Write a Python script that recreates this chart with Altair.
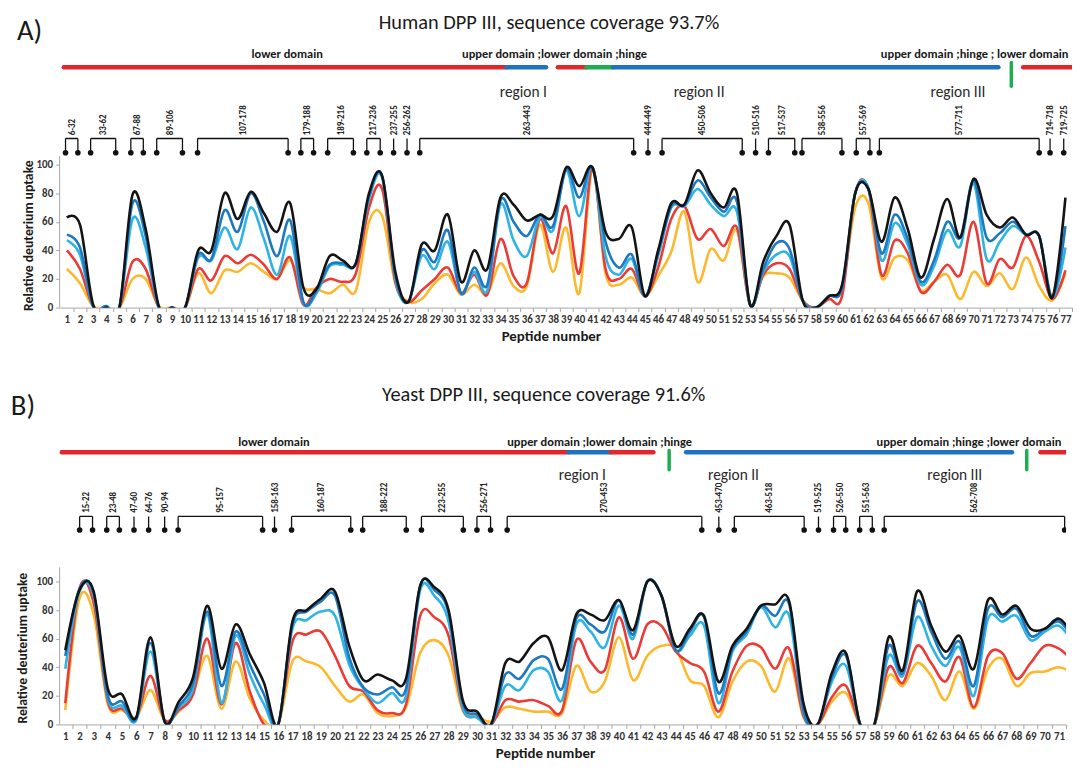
import altair as alt
import pandas as pd

FONT = "Carlito, Lato, sans-serif"
GRAY = "#a6a6a6"
INK = "#1a1a1a"
SERIES = ["yellow", "red", "lightblue", "darkblue", "black"]          # draw order
SERIES_COLORS = {"yellow": "#fdb92e", "red": "#ec3a35", "lightblue": "#2fb2e6",
                 "darkblue": "#1d78c2", "black": "#141414"}
DOMAIN_COLORS = {"lower": "#e2262b", "upper": "#1f72c2", "hinge": "#1cae4f"}

# ---------------- Panel A: human DPP III ----------------
A_peptide = list(range(1, 78))
A_black = [63, 58, 2, 0, 0, 79, 55, 1, 0, 0, 40, 40, 80, 62, 81, 66, 53, 73, 14, 13,
           36, 33, 31, 80, 92, 25, 4, 44, 40, 65, 18, 40, 27, 77, 72, 61, 65, 64, 98, 85,
           98, 53, 48, 56, 8, 40, 73, 72, 96, 80, 70, 80, 2, 32, 50, 58, 5, 0, 8, 16,
           80, 83, 46, 77, 55, 21, 48, 76, 49, 90, 65, 56, 63, 51, 50, 7, 77]
A_darkblue = [51, 42, 1, 1, 0, 73, 50, 0, 0, 0, 37, 34, 68, 53, 80, 60, 36, 61, 4, 12,
              30, 31, 31, 78, 92, 22, 4, 40, 32, 54, 10, 28, 16, 75, 60, 50, 65, 57, 97, 77,
              98, 46, 28, 37, 8, 38, 71, 72, 89, 77, 67, 74, 2, 27, 45, 41, 5, 0, 8, 14,
              80, 83, 38, 65, 48, 18, 33, 60, 49, 89, 49, 52, 60, 51, 50, 7, 57]
A_lightblue = [47, 37, 1, 1, 0, 62, 42, 0, 0, 0, 35, 33, 56, 41, 70, 48, 23, 50, 3, 10,
               29, 30, 31, 76, 91, 20, 4, 36, 27, 46, 10, 25, 12, 72, 47, 36, 63, 54, 96, 64,
               98, 36, 23, 34, 8, 36, 70, 71, 83, 72, 64, 67, 2, 25, 37, 36, 5, 0, 8, 14,
               80, 84, 33, 59, 44, 16, 29, 54, 43, 87, 34, 46, 57, 51, 50, 7, 42]
A_red = [40, 27, 1, 0, 0, 32, 27, 0, 0, 0, 27, 19, 36, 31, 37, 30, 20, 35, 2, 14,
         20, 18, 24, 70, 83, 18, 4, 12, 20, 28, 10, 23, 9, 48, 22, 17, 62, 38, 71, 24,
         98, 27, 20, 27, 8, 28, 62, 71, 48, 55, 43, 56, 2, 23, 31, 27, 5, 0, 6, 8,
         80, 83, 23, 47, 38, 11, 18, 30, 23, 60, 17, 34, 28, 50, 32, 6, 26]
A_yellow = [27, 17, 1, 0, 0, 20, 20, 1, 0, 0, 24, 10, 26, 25, 31, 25, 20, 33, 14, 13,
            10, 16, 12, 60, 64, 17, 4, 6, 17, 23, 9, 16, 10, 31, 15, 15, 58, 25, 56, 10,
            97, 24, 16, 21, 8, 22, 39, 67, 18, 41, 33, 54, 2, 22, 24, 21, 5, 0, 8, 14,
            70, 73, 21, 35, 33, 12, 18, 23, 6, 25, 15, 24, 13, 35, 15, 5, 24]

A_brk_label = ["6-32", "33-62", "67-88", "89-106", "107-178", "179-188", "189-216",
               "217-236", "237-255", "256-262", "263-443", "444-449", "450-506",
               "510-516", "517-537", "538-556", "557-569", "577-711", "714-718", "719-725"]
A_brk_start = [0.90, 2.81, 5.87, 7.84, 10.95, 18.81, 20.85, 23.83, 25.87, 26.89, 27.86,
               45.23, 46.30, 53.42, 54.40, 56.95, 61.08, 62.84, 75.83, 76.87]
A_brk_end = [1.84, 4.72, 6.82, 9.80, 17.84, 19.78, 22.81, 24.85, 25.87, 26.89, 44.14,
             45.23, 52.40, 53.42, 56.40, 59.99, 62.12, 75.00, 75.83, 76.87]

A_dom_start = [0.77, 34.46, 38.37, 40.55, 42.58, 73.78]
A_dom_end = [34.46, 37.47, 40.55, 42.58, 71.90, 80.0]
A_dom_kind = ["lower", "upper", "lower", "hinge", "upper", "lower"]
A_hinge_tick = [72.88]
A_domtext_center = ["lower domain"]
A_domtext_center_x = [17.77]
A_domtext_left = ["upper domain ;lower domain ;hinge", "upper domain ;hinge ; lower domain"]
A_domtext_left_x = [31.08, 62.95]
A_region = ["region I", "region II", "region III"]
A_region_x = [35.74, 49.12, 68.82]

# ---------------- Panel B: yeast DPP III ----------------
B_peptide = list(range(1, 73))
B_black = [52, 94, 93, 25, 21, 5, 61, 2, 16, 33, 83, 39, 70, 49, 29, 0, 72, 80, 88, 93,
           55, 31, 35, 31, 32, 97, 96, 80, 17, 9, 0, 43, 44, 57, 61, 38, 77, 77, 73, 87,
           66, 100, 90, 55, 67, 76, 30, 55, 67, 83, 84, 86, 15, 0, 36, 50, 0, 0, 61, 38,
           93, 69, 51, 62, 39, 87, 77, 83, 67, 67, 74, 62]
B_darkblue = [48, 95, 92, 20, 16, 4, 57, 2, 13, 29, 79, 27, 65, 42, 21, 0, 70, 79, 86, 90,
              47, 26, 21, 26, 25, 97, 94, 78, 15, 7, 0, 35, 32, 45, 46, 25, 74, 70, 65, 87,
              63, 100, 90, 52, 65, 75, 22, 53, 65, 83, 76, 84, 10, 0, 33, 48, 0, 0, 55, 36,
              86, 65, 46, 58, 27, 81, 75, 81, 62, 67, 72, 60]
B_lightblue = [39, 93, 90, 18, 13, 3, 51, 2, 12, 25, 77, 15, 62, 35, 14, 0, 67, 73, 79, 76,
               42, 25, 15, 22, 20, 94, 90, 72, 12, 5, 0, 27, 24, 38, 37, 17, 70, 65, 54, 83,
               60, 100, 90, 52, 62, 69, 15, 51, 63, 82, 68, 76, 8, 0, 30, 41, 0, 0, 48, 34,
               75, 55, 41, 54, 20, 74, 72, 76, 59, 65, 69, 57]
B_red = [15, 95, 85, 16, 11, 5, 34, 3, 10, 21, 60, 14, 57, 23, 0, 0, 58, 63, 65, 48,
         27, 23, 10, 8, 14, 76, 75, 62, 11, 5, 0, 17, 16, 17, 13, 10, 59, 44, 38, 75,
         46, 70, 69, 51, 43, 37, 9, 37, 55, 54, 39, 53, 6, 0, 19, 27, 0, 0, 40, 29,
         55, 43, 30, 47, 12, 48, 50, 32, 43, 55, 53, 44]
B_yellow = [10, 88, 77, 14, 10, 5, 24, 3, 9, 22, 48, 11, 44, 18, 3, 0, 44, 44, 40, 27,
            16, 21, 8, 6, 12, 50, 59, 48, 10, 6, 2, 12, 11, 9, 9, 8, 41, 23, 30, 61,
            31, 48, 55, 53, 31, 27, 5, 30, 44, 41, 23, 46, 5, 0, 16, 22, 0, 0, 34, 27,
            43, 34, 17, 37, 11, 39, 46, 27, 36, 37, 40, 36]

B_brk_label = ["15-22", "23-48", "47-60", "64-76", "90-94", "95-157", "158-163", "160-187",
               "188-222", "223-255", "256-271", "270-453", "453-470", "463-518", "519-525",
               "526-550", "551-563", "562-708"]
B_brk_start = [2.01, 3.92, 5.84, 6.87, 8.00, 8.95, 15.74, 16.94, 21.95, 26.09, 30.00,
               32.13, 47.04, 48.13, 54.06, 55.12, 56.96, 58.69]
B_brk_end = [2.92, 4.81, 5.84, 6.87, 8.00, 14.90, 15.74, 21.11, 25.02, 29.04, 30.96,
             45.84, 47.04, 53.05, 54.06, 55.98, 57.85, 71.40]

B_dom_start = [0.74, 36.44, 39.43, 44.73, 69.70]
B_dom_end = [36.44, 39.43, 42.43, 67.69, 80.0]
B_dom_kind = ["lower", "upper", "lower", "upper", "lower"]
B_hinge_tick = [43.54, 68.73]
B_domtext_center = ["lower domain"]
B_domtext_center_x = [15.7]
B_domtext_left = ["upper domain ;lower domain ;hinge", "upper domain ;hinge ;lower domain"]
B_domtext_left_x = [32.13, 58.15]
B_region = ["region I", "region II", "region III"]
B_region_x = [37.42, 48.07, 63.66]

XTITLE = "Peptide number"
YTITLE = "Relative deuterium uptake"


def make_panel(cfg):
    xs = alt.Scale(domain=cfg["xdom"], nice=False, zero=False)
    ys = alt.Scale(domain=[0, cfg["ytop"]], nice=False, zero=False)
    px_per = cfg["width"] / (cfg["xdom"][1] - cfg["xdom"][0])
    half = px_per / 2.0

    x_axis = alt.Axis(values=cfg["peptide"][:cfg["nlab"]], grid=False, domainColor=GRAY,
                      tickColor=GRAY, tickSize=4, tickOffset=half, labelOffset=-half,
                      labelFont=FONT, labelFontWeight="bold", labelFontSize=11,
                      labelColor="#333333", labelPadding=2, labelOverlap=False,
                      labelFlush=False, labelBound=False, titleFont=FONT,
                      titleFontSize=15, titleFontWeight="bold", titleColor=INK,
                      titlePadding=4, titleX=cfg["xtitle_x"])
    y_axis = alt.Axis(values=[0, 20, 40, 60, 80, 100], grid=False, domain=False,
                      tickColor=GRAY, tickSize=4, labelFont=FONT, labelFontWeight="bold",
                      labelFontSize=11, labelColor="#333333", labelPadding=3,
                      titleFont=FONT, titleFontSize=13.8, titleFontWeight="bold",
                      titleColor=INK, titlePadding=cfg["ytitle_pad"],
                      titleY=cfg["height"] * (1 - cfg["ytitle_unit"] / cfg["ytop"]))

    def XD(v):
        return alt.XDatum(v, scale=xs, axis=x_axis, title=XTITLE)

    def YD(v):
        return alt.YDatum(v, scale=ys, axis=y_axis, title=YTITLE)

    def Y2D(v):
        return alt.Y2Datum(v)

    def XF(f):
        return alt.X(f, type="quantitative", scale=xs, axis=x_axis, title=XTITLE)

    def YF(f):
        return alt.Y(f, type="quantitative", scale=ys, axis=y_axis, title=YTITLE)

    rows = []
    for name in SERIES:
        for p, v in zip(cfg["peptide"], cfg["series"][name]):
            rows.append({"peptide": p, "uptake": v, "series": name})
    df = pd.DataFrame(rows)

    layers = []
    # y axis line (only over the data range)
    one = pd.DataFrame({"k": [0]})
    layers.append(alt.Chart(one).mark_rule(color=GRAY, strokeWidth=1)
                  .encode(x=XD(cfg["xdom"][0]), y=YD(0), y2=Y2D(cfg["axis_top"])))

    for name in SERIES:
        layers.append(
            alt.Chart(df).transform_filter(alt.datum.series == name)
            .mark_line(interpolate="cardinal", tension=0, strokeWidth=2.6,
                       color=SERIES_COLORS[name], clip=True)
            .encode(x=XF("peptide"), y=YF("uptake"))
        )

    # peptide brackets
    brk = pd.DataFrame({"label": cfg["brk_label"], "start": cfg["brk_start"],
                        "end": cfg["brk_end"]})
    brk["mid"] = (brk["start"] + brk["end"]) / 2
    pairs = brk[brk["start"] != brk["end"]]
    dots = pd.DataFrame({"x": sorted(set(cfg["brk_start"]) | set(cfg["brk_end"]))})
    layers.append(alt.Chart(pairs).mark_rule(color="#111", strokeWidth=1.3, clip=True)
                  .encode(x=XF("start"), x2="end", y=YD(cfg["brk_y"])))
    layers.append(alt.Chart(dots).mark_rule(color="#111", strokeWidth=1.3, clip=True)
                  .encode(x=XF("x"), y=YD(cfg["dot_y"]), y2=Y2D(cfg["brk_y"])))
    layers.append(alt.Chart(dots).mark_circle(color="#111", size=32, opacity=1, clip=True)
                  .encode(x=XF("x"), y=YD(cfg["dot_y"])))
    layers.append(alt.Chart(brk).mark_text(angle=270, align="left", baseline="middle",
                                           font=FONT, fontSize=9, fontWeight="bold",
                                           color="#222", clip=True)
                  .encode(x=XF("mid"), y=YD(cfg["label_y"]), text="label:N"))

    # domain bars
    dom = pd.DataFrame({"start": cfg["dom_start"], "end": cfg["dom_end"],
                        "kind": cfg["dom_kind"]})
    layers.append(alt.Chart(dom).mark_rule(strokeWidth=4.5, strokeCap="round", clip=True)
                  .encode(x=XF("start"), x2="end", y=YD(cfg["bar_y"]),
                          color=alt.Color("kind:N", legend=None,
                                          scale=alt.Scale(domain=list(DOMAIN_COLORS),
                                                          range=list(DOMAIN_COLORS.values())))))
    hinge = pd.DataFrame({"x": cfg["hinge_tick"]})
    layers.append(alt.Chart(hinge).mark_rule(color=DOMAIN_COLORS["hinge"], strokeWidth=3.5,
                                             strokeCap="round")
                  .encode(x=XF("x"), y=YD(cfg["hinge_y"][0]), y2=Y2D(cfg["hinge_y"][1])))

    ct = pd.DataFrame({"t": cfg["domtext_center"], "x": cfg["domtext_center_x"]})
    layers.append(alt.Chart(ct).mark_text(align="center", baseline="middle", font=FONT,
                                          fontSize=12.5, fontWeight="bold", color=INK)
                  .encode(x=XF("x"), y=YD(cfg["domlabel_y"]), text="t:N"))
    lt = pd.DataFrame({"t": cfg["domtext_left"], "x": cfg["domtext_left_x"]})
    layers.append(alt.Chart(lt).mark_text(align="left", baseline="middle", font=FONT,
                                          fontSize=12.5, fontWeight="bold", color=INK)
                  .encode(x=XF("x"), y=YD(cfg["domlabel_y"]), text="t:N"))
    rg = pd.DataFrame({"t": cfg["region"], "x": cfg["region_x"]})
    layers.append(alt.Chart(rg).mark_text(align="center", baseline="middle", font=FONT,
                                          fontSize=15.5, color="#2a2a2a")
                  .encode(x=XF("x"), y=YD(cfg["region_y"]), text="t:N"))

    # panel tag and title
    tt = pd.DataFrame({"t": [cfg["title"]]})
    layers.append(alt.Chart(tt).mark_text(align="center", baseline="middle", font=FONT,
                                          fontSize=20.5, color=INK)
                  .encode(x=XD(cfg["title_x"]), y=YD(cfg["title_y"]), text="t:N"))
    tg = pd.DataFrame({"t": [cfg["tag"]]})
    layers.append(alt.Chart(tg).mark_text(align="left", baseline="middle", font=FONT,
                                          fontSize=29, color=INK)
                  .encode(x=XD(cfg["tag_x"]), y=YD(cfg["tag_y"]), text="t:N"))

    return alt.layer(*layers).properties(width=cfg["width"], height=cfg["height"])


cfgA = dict(
    peptide=A_peptide, nlab=77,
    series={"black": A_black, "darkblue": A_darkblue, "lightblue": A_lightblue,
            "red": A_red, "yellow": A_yellow},
    xdom=[0.45, 77.5], width=1020, ytop=200, height=288,
    title="Human DPP III, sequence coverage 93.7%", title_x=37.69, title_y=199.3,
    tag="A)", tag_x=-2.8, tag_y=193.75,
    domlabel_y=177.1, bar_y=168.1, hinge_y=[154.9, 171.5], region_y=150.7,
    label_y=120.6, brk_y=118.3, dot_y=108.3, axis_top=106,
    brk_label=A_brk_label, brk_start=A_brk_start, brk_end=A_brk_end,
    dom_start=A_dom_start, dom_end=A_dom_end, dom_kind=A_dom_kind, hinge_tick=A_hinge_tick,
    domtext_center=A_domtext_center, domtext_center_x=A_domtext_center_x,
    domtext_left=A_domtext_left, domtext_left_x=A_domtext_left_x,
    region=A_region, region_x=A_region_x,
    ytitle_unit=50.7, ytitle_pad=0.5, xtitle_x=495,
)
cfgB = dict(
    peptide=B_peptide, nlab=71,
    series={"black": B_black, "darkblue": B_darkblue, "lightblue": B_lightblue,
            "red": B_red, "yellow": B_yellow},
    xdom=[0.6, 71.5], width=1014, ytop=232, height=334,
    title="Yeast DPP III, sequence coverage 91.6%", title_x=34.7, title_y=230.4,
    tag="B)", tag_x=-2.84, tag_y=223,
    domlabel_y=197.3, bar_y=190.5, hinge_y=[178.2, 191.8], region_y=174.8,
    label_y=148.2, brk_y=145.6, dot_y=136.05, axis_top=110,
    brk_label=B_brk_label, brk_start=B_brk_start, brk_end=B_brk_end,
    dom_start=B_dom_start, dom_end=B_dom_end, dom_kind=B_dom_kind, hinge_tick=B_hinge_tick,
    domtext_center=B_domtext_center, domtext_center_x=B_domtext_center_x,
    domtext_left=B_domtext_left, domtext_left_x=B_domtext_left_x,
    region=B_region, region_x=B_region_x,
    ytitle_unit=53.7, ytitle_pad=7, xtitle_x=489,
)

chart = (
    alt.concat(make_panel(cfgA), make_panel(cfgB), columns=1, spacing=42, align="none")
    .properties(padding={"left": 2, "top": 2, "right": 0, "bottom": 0}, background="white")
    .configure_view(stroke=None)
)

chart.save("out.html", embed_options={"renderer": "svg", "actions": False})
